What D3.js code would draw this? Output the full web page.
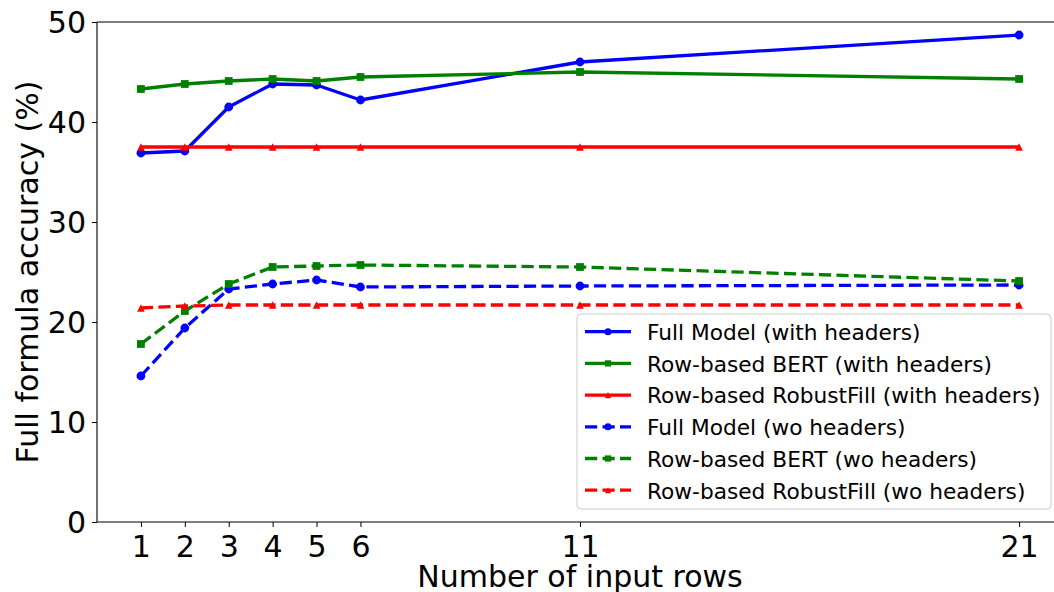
<!DOCTYPE html>
<html>
<head>
<meta charset="utf-8">
<script src="https://cdn.jsdelivr.net/npm/d3@7"></script>
<style>
  html, body { margin: 0; padding: 0; background: #fff; }
  svg { display: block; }
  text { font-family: "DejaVu Sans", sans-serif; fill: #000; }
</style>
</head>
<body>
<svg id="chart" width="1054" height="592"></svg>
<script>
// ---- data ----
const inputRows = [1, 2, 3, 4, 5, 6, 11, 21];
const fullModelWith = [36.9, 37.1, 41.5, 43.8, 43.7, 42.2, 46.0, 48.7];
const bertWith      = [43.3, 43.8, 44.1, 44.3, 44.1, 44.5, 45.0, 44.3];
const robustWith    = [37.5, 37.5, 37.5, 37.5, 37.5, 37.5, 37.5, 37.5];
const fullModelWo   = [14.6, 19.4, 23.3, 23.8, 24.2, 23.5, 23.6, 23.7];
const bertWo        = [17.8, 21.1, 23.8, 25.5, 25.6, 25.7, 25.5, 24.1];
const robustWo      = [21.4, 21.6, 21.7, 21.7, 21.7, 21.7, 21.7, 21.7];
const seriesLabels = [
  "Full Model (with headers)",
  "Row-based BERT (with headers)",
  "Row-based RobustFill (with headers)",
  "Full Model (wo headers)",
  "Row-based BERT (wo headers)",
  "Row-based RobustFill (wo headers)"
];
const yTicks = [0, 10, 20, 30, 40, 50];
const xLabel = "Number of input rows";
const yLabel = "Full formula accuracy (%)";

// ---- styles ----
const seriesValues = [fullModelWith, bertWith, robustWith, fullModelWo, bertWo, robustWo];
const colors = ["#0000ff", "#008000", "#ff0000", "#0000ff", "#008000", "#ff0000"];
const markers = ["circle", "square", "triangle", "circle", "square", "triangle"];
const dashed = [false, false, false, true, true, true];

const svg = d3.select("#chart");
const pL = 97, pR = 1063, pT = 22, pB = 522;
const x = d3.scaleLinear().domain([0, 22]).range([pL, pR]);
const y = d3.scaleLinear().domain([0, 50]).range([pB, pT]);

svg.append("defs").append("clipPath").attr("id", "clip")
  .append("rect").attr("x", pL).attr("y", pT).attr("width", pR - pL).attr("height", pB - pT);

function markerPath(type, s) {
  if (type === "circle") {
    return d3.symbol().type(d3.symbolCircle).size(Math.PI * s * s)();
  } else if (type === "square") {
    return `M${-s},${-s}H${s}V${s}H${-s}Z`;
  } else {
    return `M0,${-s}L${s},${s}L${-s},${s}Z`;
  }
}
const markerSize = { circle: 4.4, square: 3.9, triangle: 3.8 };

const plot = svg.append("g").attr("clip-path", "url(#clip)");
const line = d3.line().x(d => x(d[0])).y(d => y(d[1]));

seriesValues.forEach((vals, i) => {
  const pts = inputRows.map((r, j) => [r, vals[j]]);
  const g = plot.append("g");
  g.append("path")
    .attr("d", line(pts))
    .attr("fill", "none")
    .attr("stroke", colors[i])
    .attr("stroke-width", 3.3)
    .attr("stroke-linejoin", "round")
    .attr("stroke-dasharray", dashed[i] ? "12.2,5.3" : null);
  g.selectAll("path.m").data(pts).enter().append("path")
    .attr("class", "m")
    .attr("transform", d => `translate(${x(d[0])},${y(d[1])})`)
    .attr("d", markerPath(markers[i], markerSize[markers[i]]))
    .attr("fill", colors[i]);
});

// ---- axes ----
const xAxis = d3.axisBottom(x).tickValues(inputRows).tickSize(5).tickFormat(d3.format("d"));
const gx = svg.append("g").attr("transform", `translate(0,${pB})`).call(xAxis);
gx.select(".domain").remove();
gx.selectAll(".tick line").attr("stroke", "#000").attr("stroke-width", 1);
gx.selectAll(".tick text").attr("y", 35).attr("dy", 0)
  .attr("font-size", 30).attr("font-family", "DejaVu Sans").attr("fill", "#000");

const yAxis = d3.axisLeft(y).tickValues(yTicks).tickSize(5).tickFormat(d3.format("d"));
const gy = svg.append("g").attr("transform", `translate(${pL},0)`).call(yAxis);
gy.select(".domain").remove();
gy.selectAll(".tick line").attr("stroke", "#000").attr("stroke-width", 1);
gy.selectAll(".tick text").attr("x", -11).attr("dy", "0.36em")
  .attr("font-size", 30).attr("font-family", "DejaVu Sans").attr("fill", "#000");

// spines
const spines = svg.append("g").attr("stroke", "#000").attr("stroke-width", 1.1).attr("fill", "none");
spines.append("line").attr("x1", pL).attr("x2", pL).attr("y1", pT).attr("y2", pB);
spines.append("line").attr("x1", pL).attr("x2", pR).attr("y1", pB).attr("y2", pB);
spines.append("line").attr("x1", pL).attr("x2", pR).attr("y1", pT).attr("y2", pT);
spines.append("line").attr("x1", pR).attr("x2", pR).attr("y1", pT).attr("y2", pB);

// axis labels
svg.append("text")
  .attr("x", (pL + pR) / 2).attr("y", 587)
  .attr("text-anchor", "middle").attr("font-size", 30)
  .text(xLabel);
svg.append("text")
  .attr("transform", `translate(38,${(pT + pB) / 2}) rotate(-90)`)
  .attr("text-anchor", "middle").attr("font-size", 30)
  .text(yLabel);

// ---- legend ----
const lg = svg.append("g");
lg.append("rect")
  .attr("x", 577).attr("y", 314).attr("width", 474).attr("height", 195)
  .attr("rx", 4).attr("ry", 4)
  .attr("fill", "#fff").attr("fill-opacity", 0.8)
  .attr("stroke", "#cccccc").attr("stroke-width", 1);
seriesLabels.forEach((lab, i) => {
  const cy = 331.7 + i * 31.7;
  const row = lg.append("g");
  row.append("line")
    .attr("x1", 585).attr("x2", 631).attr("y1", cy).attr("y2", cy)
    .attr("stroke", colors[i]).attr("stroke-width", 3.3)
    .attr("stroke-dasharray", dashed[i] ? "12.2,5.3" : null);
  row.append("path")
    .attr("transform", `translate(608,${cy})`)
    .attr("d", markerPath(markers[i], markerSize[markers[i]] * 0.8))
    .attr("fill", colors[i]);
  row.append("text")
    .attr("x", 647).attr("y", cy + 8.3)
    .attr("font-size", 21.7)
    .text(lab);
});
</script>
</body>
</html>
